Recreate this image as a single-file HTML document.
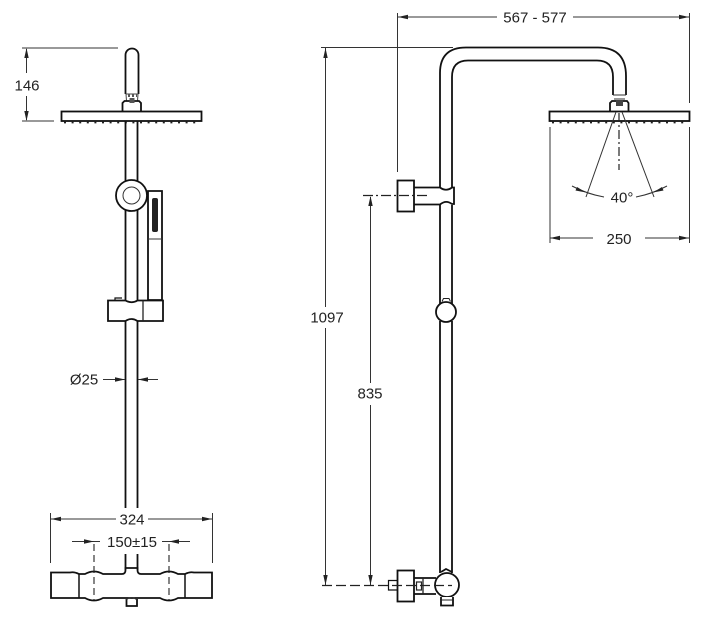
<!DOCTYPE html>
<html>
<head>
<meta charset="utf-8">
<style>
html,body{margin:0;padding:0;background:#fff;width:701px;height:621px;overflow:hidden}
svg{display:block}
text{font-family:"Liberation Sans",sans-serif;font-size:15px;fill:#222;text-anchor:middle}
.m{fill:none;stroke:#111;stroke-width:1.8}
.w{fill:#fff;stroke:#111;stroke-width:1.8}
.d{fill:none;stroke:#333;stroke-width:1}
.c{fill:none;stroke:#222;stroke-width:1.200;stroke-dasharray:10 3 2 3}
.a{fill:#222;stroke:none}
.n{fill:none;stroke:#222;stroke-width:1.800;stroke-dasharray:2 5.600}
</style>
</head>
<body>
<svg width="701" height="621" viewBox="0 0 701 621" xmlns="http://www.w3.org/2000/svg">
<!-- LEFT VIEW -->
<!-- 146 dim -->
<path class="d" d="M22 48H118M22 121H54M26.500 49V73M26.500 96V120"/>
<path class="a" d="M26.500 48l-2.200 10h4.400zM26.500 121l-2.200-10h4.400z"/>
<text x="27" y="90.500">146</text>
<!-- arm top / handle -->
<path class="m" d="M125.500 94V55a6.500 6.500 0 0 1 13 0V94"/>
<path d="M126 94H138L137.500 101H126.500Z" fill="none" stroke="#444" stroke-width="1"/>
<path d="M128 95.500h2M132 95.500h2M136 95.500h1" stroke="#555" stroke-width="3" fill="none"/>
<path class="w" d="M122.500 111V103L124.500 101H139L141 103V111"/>
<rect x="129.500" y="98" width="5" height="5" fill="#555"/>
<rect class="w" x="61.500" y="111.500" width="140" height="9.500"/>
<path class="n" d="M64 122.500H200"/>
<!-- pipe -->
<path class="m" d="M125.500 121V183M137.500 121V183M125.500 207V300M137.500 207V300M125.500 321V508M137.500 321V508"/>
<!-- ring -->
<circle class="w" cx="131.500" cy="195.500" r="15.500"/>
<circle cx="131.500" cy="195.500" r="8.500" fill="#fff" stroke="#333" stroke-width="1"/>
<!-- hand shower -->
<path class="m" d="M148 191H162V300H148V191Z"/>
<path d="M148 239H162" stroke="#333" stroke-width="1"/>
<rect x="152" y="198" width="6" height="34" rx="2" fill="#222"/>
<!-- bracket -->
<path class="w" d="M108 300.500H125.500Q131.500 304 137.500 300.500H163V321H137.500Q131.500 317 125.500 321H108Z"/>
<path d="M143 300.500V321" stroke="#222" stroke-width="1.300"/>
<path d="M115 300V298H122" class="m" style="stroke-width:1.200"/>
<!-- O25 -->
<text x="84" y="384.500">Ø25</text>
<path class="d" d="M103 379.500H125M138 379.500H158"/>
<path class="a" d="M125 379.500l-10-2.200v4.400zM138 379.500l10-2.200v4.400z"/>
<!-- 324 -->
<path class="d" d="M50.500 513V563M212.500 513V563M51 519H116M148 519H212"/>
<path class="a" d="M51 519l10-2.200v4.400zM212 519l-10-2.200v4.400z"/>
<text x="132" y="524.500">324</text>
<!-- 150 -->
<path class="d" d="M72 541.500H100M162 541.500H190"/>
<path class="a" d="M94 541.500l-10-2.200v4.400zM169 541.500l10-2.200v4.400z"/>
<text x="132" y="547">150±15</text>
<!-- valve -->
<path class="m" d="M125.500 554V570M137.500 554V570"/>
<path class="w" d="M51 572.500H70Q74 571.500 79 574H85Q94 569 103 574H122Q125.500 574 125.500 570V568H137.500V570Q137.500 574 141 574H160Q169 569 178 574H185Q190 571.500 194 572.500H212V598H178Q169 603 160 598H103Q94 603 85 598H51Z"/>
<path d="M79 574V598M185 574V598" stroke="#111" stroke-width="1.500"/>
<path class="w" d="M126.500 599V606H137V599"/>
<path d="M126 600Q131.500 595 137 600" class="d"/>
<path d="M94 544V600M169 544V600" fill="none" stroke="#222" stroke-width="1.100" stroke-dasharray="7 4"/>

<!-- RIGHT VIEW -->
<!-- 567-577 -->
<path class="d" d="M397.500 13V172M689.500 13V103M397.500 17H497M573 17H689"/>
<path class="a" d="M398 17l10-2.200v4.400zM689 17l-10-2.200v4.400z"/>
<text x="535" y="22.500">567 - 577</text>
<!-- 1097 -->
<path class="d" d="M321 47.500H453M325.500 48V307M325.500 328V585"/>
<path class="a" d="M325.500 48l-2.200 10h4.400zM325.500 585l-2.200-10h4.400z"/>
<text x="327" y="322.500">1097</text>
<!-- 835 -->
<path class="d" d="M370.500 197V383M370.500 405V585"/>
<path class="a" d="M370.500 196l-2.200 10h4.400zM370.500 585l-2.200-10h4.400z"/>
<text x="370" y="398.500">835</text>
<!-- pipe -->
<path class="m" d="M440 187V73Q440 47.500 466 47.500H598Q626 47.500 626 76V95"/>
<path class="m" d="M452 187V77Q452 60.500 468 60.500H597Q613 60.500 613 77V95"/>
<path d="M613 95H626M614 99H625" stroke="#333" stroke-width="1"/>
<path class="m" d="M440 205V304M452 205V304M440 321V573M452 321V573"/>
<!-- head -->
<path class="w" d="M610 111V103L612 101H627L628.500 103V111"/>
<rect x="616" y="100" width="7" height="6" fill="#444"/>
<rect class="w" x="549.500" y="111.500" width="140" height="9.500"/>
<path class="n" d="M552 122.500H688"/>
<!-- cone -->
<path class="d" d="M616 112L586 197M622 112L654 197"/>
<path d="M619 113V170" fill="none" stroke="#222" stroke-width="1.200" stroke-dasharray="9 3 2 3"/>
<path class="d" d="M572 186Q587 194 604 197M636 197Q652 194 667 186"/>
<path class="a" d="M586 192.500l-9-5.500-1.500 3.500zM653 192.500l9-5.500 1.500 3.500z"/>
<text x="622" y="202.500">40°</text>
<!-- 250 -->
<path class="d" d="M550 127V243M689.500 127V243M550 238H593M645 238H689"/>
<path class="a" d="M550 238l10-2.200v4.400zM689 238l-10-2.200v4.400z"/>
<text x="619" y="244">250</text>
<!-- upper wall knob -->
<rect class="w" x="397.500" y="180.500" width="16.500" height="31"/>
<path class="m" d="M414 187.500H440Q446 192 452 187.500H454V204H452Q446 199.500 440 204.500H414"/>
<path class="c" d="M363 195.500H430"/>
<!-- mid circle -->
<path d="M442 301.500L443.500 298.500H449L450.500 301.500" fill="none" stroke="#222" stroke-width="1"/>
<circle class="w" cx="446" cy="312" r="10"/>
<!-- lower connection -->
<path class="m" d="M397 580.500H388.500V590H397" style="stroke-width:1.200"/>
<rect class="w" x="397.500" y="570.500" width="16.500" height="31"/>
<path class="m" d="M414 578H436M414 594H436"/>
<rect x="416.500" y="582" width="5" height="8" fill="none" stroke="#222" stroke-width="1.200"/>
<path d="M423 578V594" stroke="#222" stroke-width="1.300"/>
<circle class="w" cx="447" cy="585" r="12"/>
<path class="m" d="M441 572L446 569L452 572"/>
<path class="w" d="M441 597V605.500H453V597"/>
<path d="M441 600H453" stroke="#222" stroke-width="1"/>
<path fill="none" stroke="#222" stroke-width="1.200" stroke-dasharray="10 4" d="M322 585.500H452"/>
</svg>
</body>
</html>
